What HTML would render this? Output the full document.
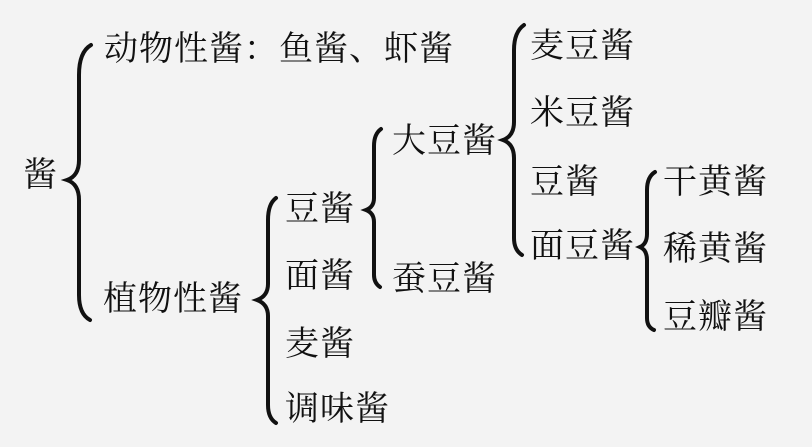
<!DOCTYPE html>
<html><head><meta charset="utf-8"><style>
html,body{margin:0;padding:0}
body{width:812px;height:447px;background:#f3f3f3;position:relative;overflow:hidden}
.t{position:absolute;font-family:"Liberation Serif","Noto Serif CJK SC","Noto Sans CJK SC",serif;font-size:34px;line-height:34px;color:#111;white-space:nowrap;letter-spacing:1px}
svg{position:absolute;left:0;top:0}
</style></head><body>
<svg width="812" height="447" fill="none" stroke="#111" stroke-width="4" stroke-linecap="round">
<path d="M91,45 Q79,52 79,75 L79,160 Q79,176 67,180 Q79,184 79,200 L79,295 Q79,314 90,320"/>
<path d="M276,198 Q268,204 268,220 L268,284 Q268,296 257,300 Q268,304 268,316 L268,405 Q268,418 276,423"/>
<path d="M381,129 Q374,134 374,146 L374,198 Q374,207 366,210 Q374,213 374,222 L374,275 Q374,283 380,287"/>
<path d="M524,25 Q514,32 514,50 L514,122 Q514,136 503,140 Q514,144 514,158 L514,238 Q514,250 522,255"/>
<path d="M655,172 Q647,177 647,190 L647,234 Q647,244 640,247 Q647,250 647,260 L647,318 Q647,327 654,330"/>
</svg>
<div class="t" style="left:23px;top:159px">酱</div>
<div class="t" style="left:104px;top:33px">动物性酱：鱼酱、虾酱</div>
<div class="t" style="left:103px;top:283px">植物性酱</div>
<div class="t" style="left:285px;top:193px">豆酱</div>
<div class="t" style="left:285px;top:260px">面酱</div>
<div class="t" style="left:285px;top:328px">麦酱</div>
<div class="t" style="left:285px;top:393px">调味酱</div>
<div class="t" style="left:392px;top:125px">大豆酱</div>
<div class="t" style="left:392px;top:263px">蚕豆酱</div>
<div class="t" style="left:530px;top:30px">麦豆酱</div>
<div class="t" style="left:530px;top:97px">米豆酱</div>
<div class="t" style="left:530px;top:166px">豆酱</div>
<div class="t" style="left:530px;top:230px">面豆酱</div>
<div class="t" style="left:663px;top:166px">干黄酱</div>
<div class="t" style="left:663px;top:233px">稀黄酱</div>
<div class="t" style="left:663px;top:301px">豆瓣酱</div>
</body></html>
